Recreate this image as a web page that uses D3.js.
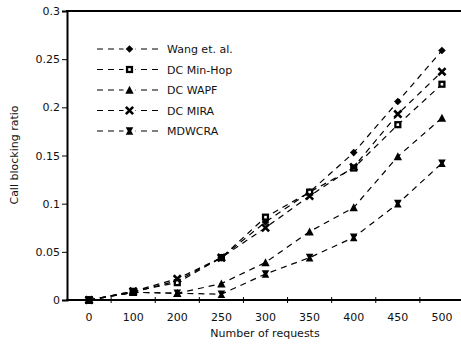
<!DOCTYPE html>
<html>
<head>
<meta charset="utf-8">
<script src="https://cdn.jsdelivr.net/npm/d3@7"></script>
<style>
body { margin: 0; background: #fff; }
text { font-family: "DejaVu Sans", Verdana, sans-serif; fill: #111; }
</style>
</head>
<body>
<div id="chart"></div>
<script>
width = 461
height = 344

let requests = ["0", "100", "200", "250", "300", "350", "400", "450", "500"]
let seriesNames = ["Wang et. al.", "DC Min-Hop", "DC WAPF", "DC MIRA", "MDWCRA"]
let wang = [0, 0.008, 0.020, 0.044, 0.081, 0.112, 0.153, 0.206, 0.259]
let minHop = [0, 0.009, 0.018, 0.044, 0.086, 0.112, 0.137, 0.182, 0.224]
let wapf = [0, 0.008, 0.007, 0.017, 0.039, 0.071, 0.096, 0.149, 0.189]
let mira = [0, 0.009, 0.022, 0.044, 0.075, 0.108, 0.138, 0.193, 0.237]
let mdwcra = [0, 0.008, 0.007, 0.006, 0.027, 0.044, 0.065, 0.100, 0.142]
let yTicks = [0, 0.05, 0.1, 0.15, 0.2, 0.25, 0.3]

let allSeries = [wang, minHop, wapf, mira, mdwcra]
let markers = ["diamond", "square", "triangle", "cross", "bowtie"]

let svg = d3.select("#chart")
.append("svg")
.attr("width", width)
.attr("height", height)

let x = d3.scaleBand().domain(requests).range([67, 464])
let y = d3.scaleLinear().domain([0, 0.3]).range([300, 11])
let cx = d => x(d) + x.bandwidth() / 2

function markerPath(type, s) {
	if (type == "diamond") return `M0,${-s}L${s},0L0,${s}L${-s},0Z`
	if (type == "square") return `M${-s},${-s}h${2*s}v${2*s}h${-2*s}Z`
	if (type == "triangle") return `M0,${-s*1.1}L${s*1.1},${s}L${-s*1.1},${s}Z`
	if (type == "cross") return `M${-s},${-s}L${s},${s}M${s},${-s}L${-s},${s}`
	return `M${-s},${-s}L${s},${-s}L${s*0.45},0L${s},${s}L${-s},${s}L${-s*0.45},0Z`
}

function drawMarker(g, type) {
	if (type == "cross") {
		g.append("path").attr("d", markerPath(type, 3.6)).attr("stroke", "#000").attr("stroke-width", 2.6).attr("fill", "none")
	} else if (type == "square") {
		g.append("path").attr("d", markerPath(type, 3.6)).attr("fill", "#000")
		g.append("rect").attr("x", -1.3).attr("y", -1.3).attr("width", 2.6).attr("height", 2.6).attr("fill", "#fff")
	} else if (type == "bowtie") {
		g.append("path").attr("d", markerPath(type, 3.8)).attr("fill", "#000")
	} else {
		g.append("path").attr("d", markerPath(type, 3.8)).attr("fill", "#000")
	}
}

// axes
let yAxis = svg.append("g")
.attr("transform", "translate(67,0)")
.call(d3.axisLeft(y).tickValues(yTicks).tickSize(5).tickFormat(d => d))
yAxis.select(".domain").attr("stroke-width", 2)
yAxis.selectAll("text").attr("font-size", 11).attr("x", -7)

let xAxis = svg.append("g")
.attr("transform", "translate(0,300)")
.call(d3.axisBottom(x).tickSize(0))
xAxis.select(".domain").remove()
xAxis.selectAll("text").attr("font-size", 11).attr("dy", "1.6em")

svg.append("line").attr("x1", 66).attr("x2", width).attr("y1", 300).attr("y2", 300)
.attr("stroke", "#000").attr("stroke-width", 2)
svg.append("line").attr("x1", 66).attr("x2", width).attr("y1", 11).attr("y2", 11)
.attr("stroke", "#000").attr("stroke-width", 2)

// band boundary ticks on bottom axis
let bounds = requests.slice(1).map(r => x(r)).concat([x(requests[requests.length - 1]) + x.bandwidth()])
svg.append("g").selectAll("line")
.data(bounds)
.join("line")
.attr("x1", d => d).attr("x2", d => d)
.attr("y1", 297).attr("y2", 303)
.attr("stroke", "#000").attr("stroke-width", 1)

svg.append("text")
.attr("transform", "translate(18,155) rotate(-90)")
.attr("text-anchor", "middle")
.attr("font-size", 11)
.text("Call blocking ratio")

svg.append("text")
.attr("x", 265)
.attr("y", 337)
.attr("text-anchor", "middle")
.attr("font-size", 11)
.text("Number of requests")

// series
let line = d3.line().x((d, i) => cx(requests[i])).y(d => y(d))

allSeries.forEach((vals, si) => {
	svg.append("path")
	.attr("d", line(vals))
	.attr("fill", "none")
	.attr("stroke", "#000")
	.attr("stroke-width", 1.2)
	.attr("stroke-dasharray", "6,5")

	vals.forEach((v, i) => {
		let g = svg.append("g").attr("transform", `translate(${cx(requests[i])},${y(v)})`)
		drawMarker(g, markers[si])
	})
})

// legend
let legend = svg.append("g")
seriesNames.forEach((name, i) => {
	let ly = 49 + i * 20.5
	legend.append("line")
	.attr("x1", 97).attr("x2", 162).attr("y1", ly).attr("y2", ly)
	.attr("stroke", "#000").attr("stroke-width", 1.2).attr("stroke-dasharray", "6,5")
	let g = legend.append("g").attr("transform", `translate(129.5,${ly})`)
	g.append("rect").attr("x", -6).attr("y", -5).attr("width", 12).attr("height", 10).attr("fill", "#fff")
	drawMarker(g, markers[i])
	legend.append("text")
	.attr("x", 167).attr("y", ly + 4)
	.attr("font-size", 11)
	.text(name)
})
</script>
</body>
</html>
